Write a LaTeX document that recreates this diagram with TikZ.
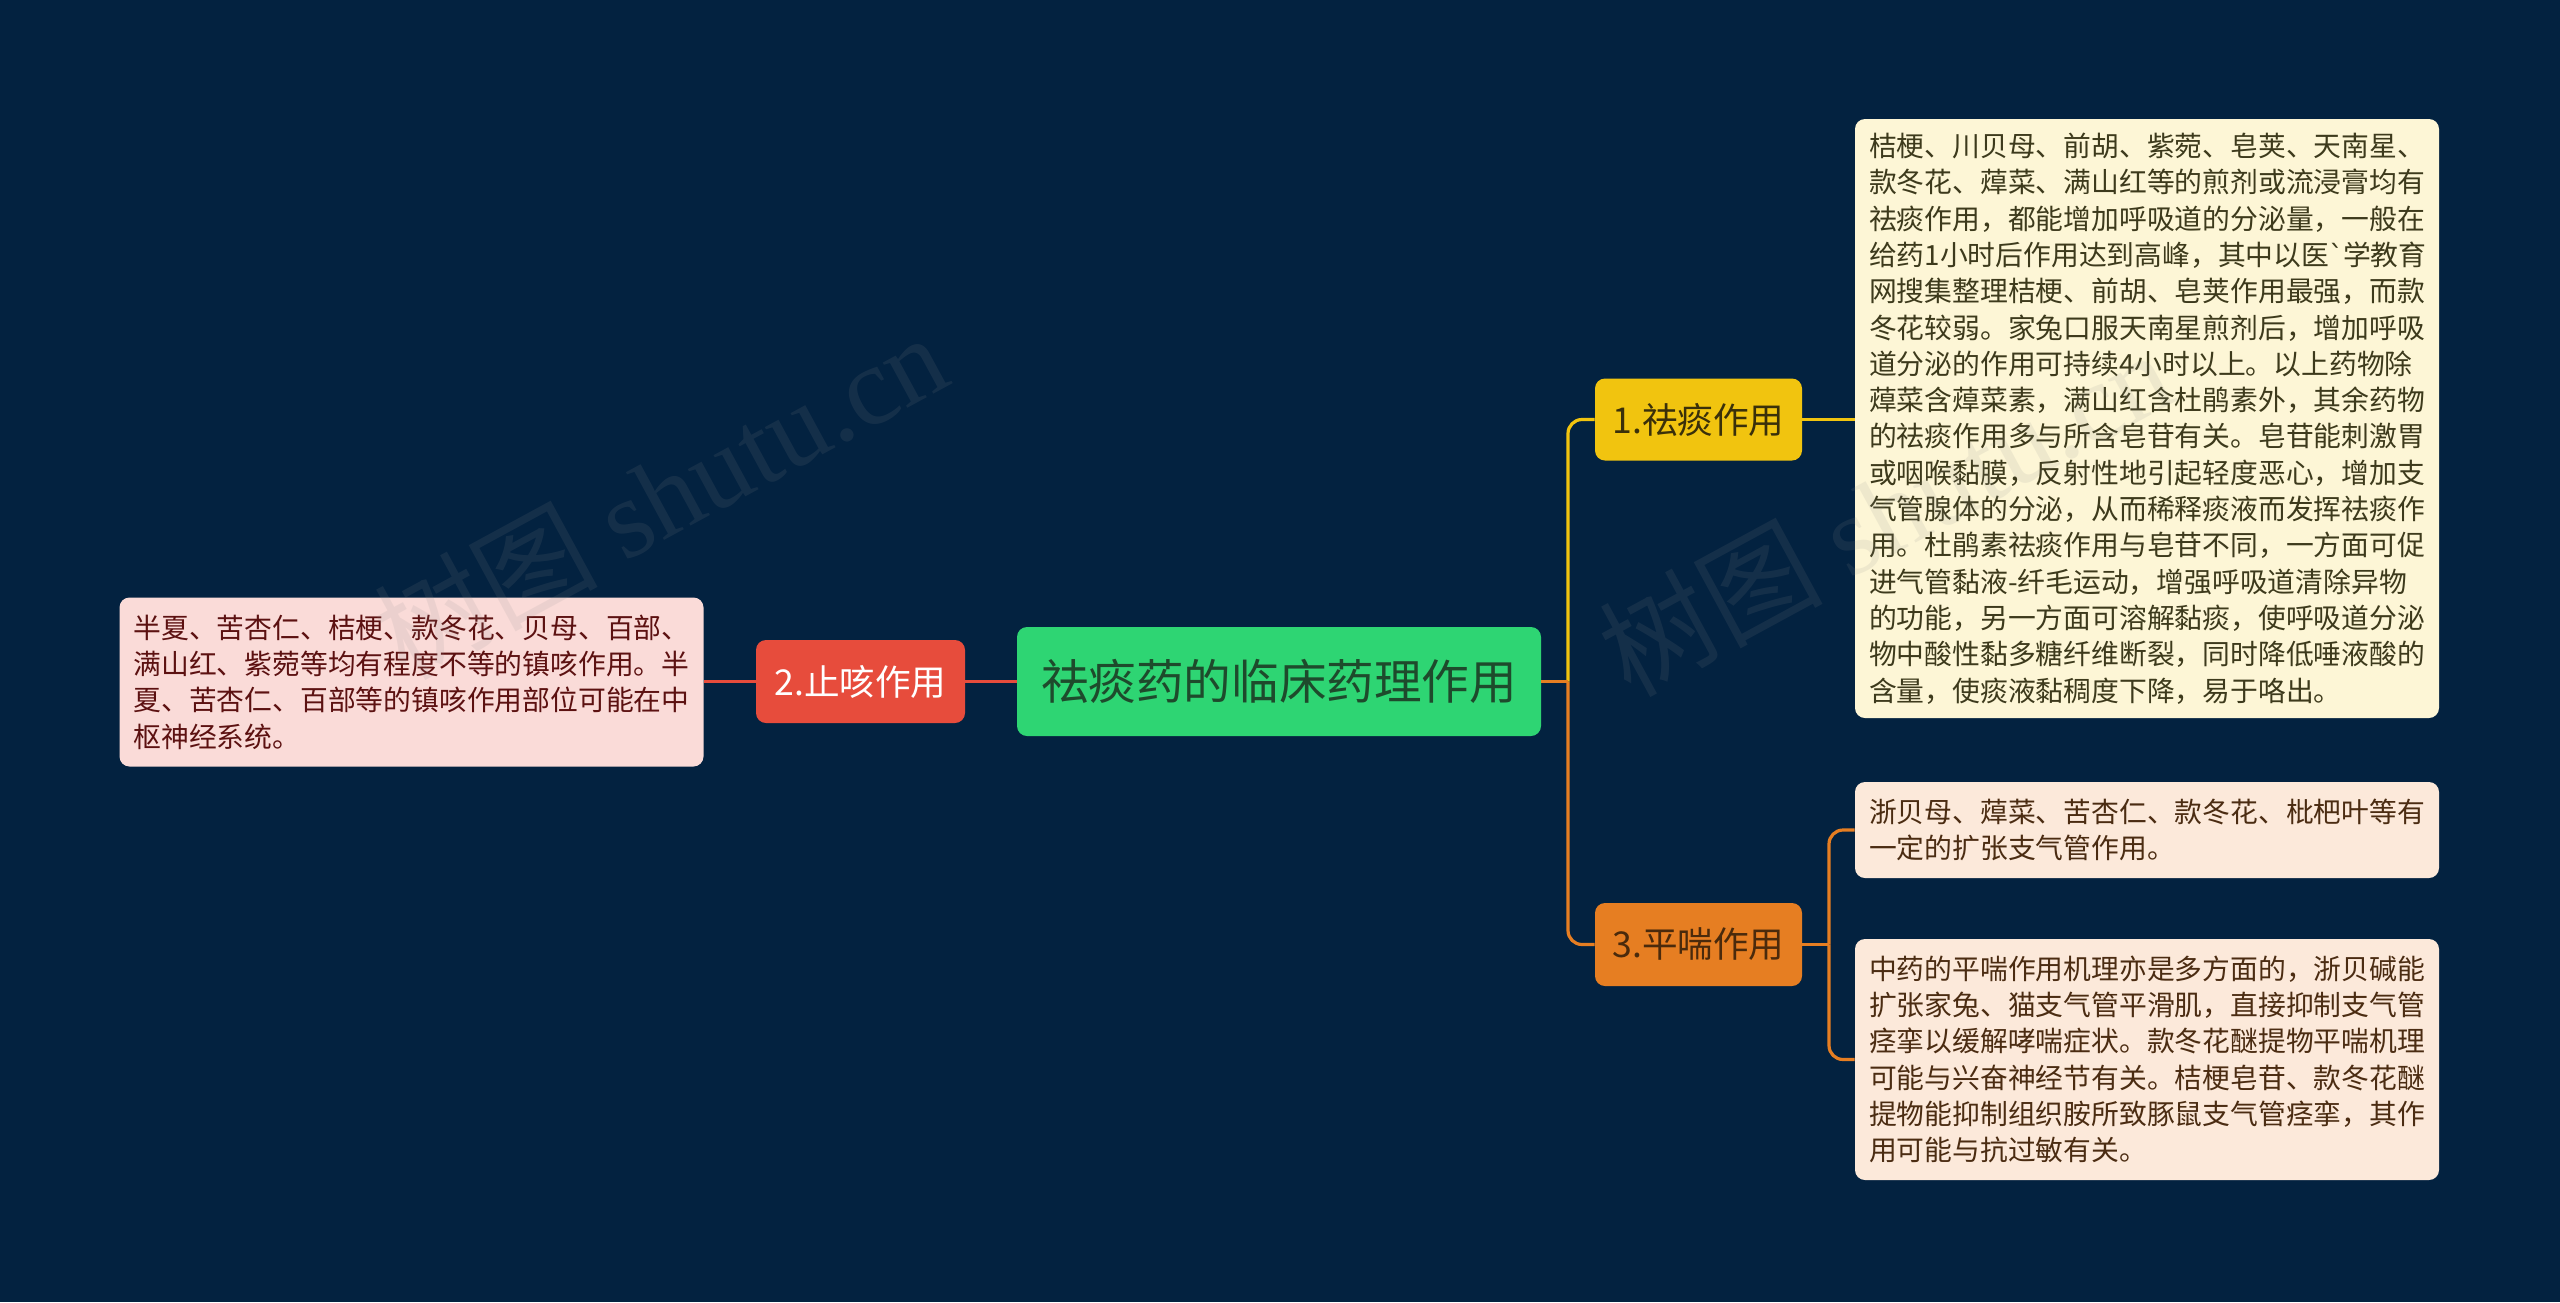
\documentclass[tikz,border=0pt]{standalone}
\usepackage{fontspec}
\setmainfont{Noto Sans CJK SC}
\newfontfamily\wmserif{Liberation Serif}
\newfontfamily\djv{DejaVu Sans}
\definecolor{bg}{HTML}{032240}
\definecolor{rootc}{HTML}{2ED573}
\definecolor{roottxt}{HTML}{1E4A2C}
\definecolor{redc}{HTML}{E74C3C}
\definecolor{yelc}{HTML}{F1C40F}
\definecolor{orac}{HTML}{E67E22}
\definecolor{yeltxt}{HTML}{3A300A}
\definecolor{oratxt}{HTML}{4A2A0C}
\definecolor{leafy}{HTML}{FDF6D6}
\definecolor{leafo}{HTML}{FCE9DA}
\definecolor{leafr}{HTML}{FADBD8}
\definecolor{leafytxt}{HTML}{3D3A1C}
\definecolor{leafotxt}{HTML}{4B2C12}
\definecolor{leafrtxt}{HTML}{5C1111}
\begin{document}
\begin{tikzpicture}[x=0.5pt,y=-0.5pt,
  box/.style={rounded corners=5pt, inner sep=0pt, align=center},
  branchbox/.style={box, minimum width=103.5pt, minimum height=41pt, font=\fontsize{17.8}{21}\selectfont},
  leaf/.style={rounded corners=5pt, inner xsep=7pt, inner ysep=0pt, text width=278pt, align=left, font=\fontsize{13.9}{18.15}\selectfont},
  conn/.style={line width=1.6pt},
  wm/.style={rotate=28.5, opacity=0.13, text={rgb,1:red,0.55;green,0.55;blue,0.55}, inner sep=0pt}
]
\fill[bg] (0,0) rectangle (2560,1302);
\useasboundingbox (0,0) rectangle (2560,1302);

% nodes
\node[box, fill=rootc, text=roottxt, minimum width=262pt, minimum height=54.5pt, font=\fontsize{23.8}{28}\selectfont] (root) at (1279,681.5) {祛痰药的临床药理作用};
\node[branchbox, fill=redc, text=white, minimum width=104.5pt, minimum height=41.5pt] (b2) at (860.5,681.5) {2.止咳作用};
\node[branchbox, fill=yelc, text=yeltxt] (b1) at (1698.5,419.5) {1.祛痰作用};
\node[branchbox, fill=orac, text=oratxt, minimum height=41.5pt] (b3) at (1698.5,944.5) {3.平喘作用};

\node[leaf, fill=leafr, text=leafrtxt, minimum height=84.5pt] (l2) at (411.5,682) {半夏、苦杏仁、桔梗、款冬花、贝母、百部、\\满山红、紫菀等均有程度不等的镇咳作用。半\\夏、苦杏仁、百部等的镇咳作用部位可能在中\\枢神经系统。};

\node[leaf, fill=leafy, text=leafytxt, minimum height=299.5pt] (l1) at (2147,418.5) {桔梗、川贝母、前胡、紫菀、皂荚、天南星、\\款冬花、蔊菜、满山红等的煎剂或流浸膏均有\\祛痰作用，都能增加呼吸道的分泌量，一般在\\给药1小时后作用达到高峰，其中以医{\djv ˋ}学教育\\网搜集整理桔梗、前胡、皂荚作用最强，而款\\冬花较弱。家兔口服天南星煎剂后，增加呼吸\\道分泌的作用可持续4小时以上。以上药物除\\蔊菜含蔊菜素，满山红含杜鹃素外，其余药物\\的祛痰作用多与所含皂苷有关。皂苷能刺激胃\\或咽喉黏膜，反射性地引起轻度恶心，增加支\\气管腺体的分泌，从而稀释痰液而发挥祛痰作\\用。杜鹃素祛痰作用与皂苷不同，一方面可促\\进气管黏液-纤毛运动，增强呼吸道清除异物\\的功能，另一方面可溶解黏痰，使呼吸道分泌\\物中酸性黏多糖纤维断裂，同时降低唾液酸的\\含量，使痰液黏稠度下降，易于咯出。};

\node[leaf, fill=leafo, text=leafotxt, minimum height=48pt] (l3a) at (2147,830) {浙贝母、蔊菜、苦杏仁、款冬花、枇杷叶等有\\一定的扩张支气管作用。};

\node[leaf, fill=leafo, text=leafotxt, minimum height=120.5pt] (l3b) at (2147,1059.5) {中药的平喘作用机理亦是多方面的，浙贝碱能\\扩张家兔、猫支气管平滑肌，直接抑制支气管\\痉挛以缓解哮喘症状。款冬花醚提物平喘机理\\可能与兴奋神经节有关。桔梗皂苷、款冬花醚\\提物能抑制组织胺所致豚鼠支气管痉挛，其作\\用可能与抗过敏有关。};

% connector junctions
\coordinate (trunk) at (1568,681.5);
\coordinate (trunk3) at (1829,944.5);

% connectors
\draw[conn, redc] (root.west) -- (b2.east);
\draw[conn, redc] (b2.west) -- (b2.west -| l2.east);
\draw[conn, yelc, rounded corners=7pt] (trunk) |- (b1.west);
\draw[conn, orac, rounded corners=7pt] (trunk) |- (b3.west);
\draw[conn, orac] (root.east) -- (trunk);
\draw[conn, yelc] (b1.east) -- (b1.east -| l1.west);
\draw[conn, orac] (b3.east) -- (trunk3);
\draw[conn, orac, rounded corners=7pt] (trunk3) |- (l3a.west);
\draw[conn, orac, rounded corners=7pt] (trunk3) |- (l3b.west);

% watermarks
\node[wm] (wm1) at (660,495) {\fontsize{56}{60}\selectfont 树图 {\wmserif shutu.cn}};
\node[wm] (wm2) at (1885,512) {\fontsize{56}{60}\selectfont 树图 {\wmserif shutu.cn}};
\end{tikzpicture}
\end{document}
